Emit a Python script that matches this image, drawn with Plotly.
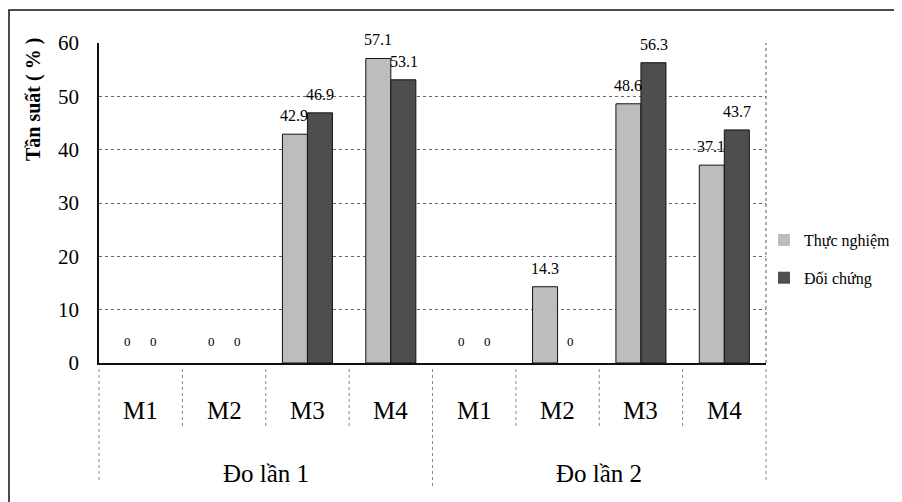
import plotly.graph_objects as go

groups = ["Đo lần 1"] * 4 + ["Đo lần 2"] * 4
cats = ["M1", "M2", "M3", "M4", "M1", "M2", "M3", "M4"]
group_names = ["Đo lần 1", "Đo lần 2"]
thuc_nghiem = [0, 0, 42.9, 57.1, 0, 14.3, 48.6, 37.1]
doi_chung = [0, 0, 46.9, 53.1, 0, 0, 56.3, 43.7]
series_names = ["Thực nghiệm", "Đối chứng"]
y_ticks = [0, 10, 20, 30, 40, 50, 60]

FONT = "Liberation Serif, Times New Roman, serif"
OFF = 8  # page body margin
W, H = 894, 494
L, T = 99 - OFF, 43 - OFF
pw, ph = 667, 320
R, B = W - L - pw, H - T - ph

def px(x):  # screen pixel -> paper x
    return (x - OFF - L) / pw

def py(y):  # screen pixel -> paper y
    return (T + ph - (y - OFF)) / ph

fig = go.Figure()
colors = ["#bdbdbd", "#4e4e4e"]
for name, vals, col, grp in zip(series_names, [thuc_nghiem, doi_chung], colors, ["a", "b"]):
    fig.add_trace(go.Bar(
        x=[groups, cats], y=vals, name=name, legendgroup=grp,
        marker=dict(color=col, line=dict(color="#111",
                                         width=[0 if v == 0 else 1 for v in vals])),
    ))

# data labels
for vals, shift in [(thuc_nghiem, -13), (doi_chung, 13)]:
    for i, v in enumerate(vals):
        fig.add_annotation(
            x=i, xref="x", yref="y", y=v, xanchor="center", yanchor="bottom",
            showarrow=False, text=("0" if v == 0 else f"{v:g}"),
            font=dict(family=FONT, size=(13 if v == 0 else 16), color="black"),
            yshift=(12 if v == 0 else 8), xshift=shift,
        )

# category labels
for i, c in enumerate(cats):
    fig.add_annotation(x=i, xref="x", yref="paper", y=py(410), xanchor="center",
                       yanchor="middle", showarrow=False, text=c,
                       font=dict(family=FONT, size=25, color="black"))
# group labels
for j, g in enumerate(group_names):
    fig.add_annotation(x=j * 4 + 1.5, xref="x", yref="paper", y=py(473), xanchor="center",
                       yanchor="middle", showarrow=False, text=g,
                       font=dict(family=FONT, size=25, color="black"))

shapes = []
# outer frame
shapes.append(dict(type="rect", xref="paper", yref="paper",
                   x0=px(9), x1=px(915), y0=py(515), y1=py(10),
                   line=dict(color="#111", width=1.5), layer="below"))
# plot border (dotted right side)
shapes.append(dict(type="line", xref="paper", yref="paper",
                   x0=1, x1=1, y0=0, y1=1, line=dict(color="#555", width=1, dash="dot")))
# category separators in label area
for k in range(9):
    xx = k / 8
    if k in (0, 4, 8):
        y_end = py(488) if k == 4 else py(480)
    else:
        y_end = py(427)
    shapes.append(dict(type="line", xref="paper", yref="paper",
                       x0=xx, x1=xx, y0=py(369), y1=y_end,
                       line=dict(color="#888", width=1, dash="dot")))

# y-axis title
fig.add_annotation(xref="paper", yref="paper", x=px(33), y=py(100),
                   xanchor="center", yanchor="middle",
                   text="<b>Tần suất ( % )</b>", textangle=-90, showarrow=False,
                   font=dict(family=FONT, size=20, color="black"))

fig.update_layout(
    width=W, height=H,
    margin=dict(l=L, r=R, t=T, b=B, autoexpand=False),
    paper_bgcolor="white", plot_bgcolor="white",
    barmode="group", bargap=0.4, bargroupgap=0,
    font=dict(family=FONT, color="black"),
    shapes=shapes,
    legend=dict(x=px(764), y=py(223), xanchor="left", yanchor="top",
                font=dict(family=FONT, size=16, color="black"),
                traceorder="grouped", tracegroupgap=14,
                bgcolor="rgba(0,0,0,0)"),
    xaxis=dict(type="multicategory", showline=True, linecolor="#111", linewidth=1.5,
               showdividers=False, ticks="", showticklabels=False,
               showgrid=False, automargin=False),
    yaxis=dict(range=[0, 60], tickvals=y_ticks, showgrid=True, gridcolor="#666",
               griddash="dot", gridwidth=1, showline=True, linecolor="#111", linewidth=1.5,
               tickfont=dict(family=FONT, size=21, color="black"), ticks="",
               ticklabelstandoff=14, zeroline=False, automargin=False),
)

fig.write_html("out.html")
